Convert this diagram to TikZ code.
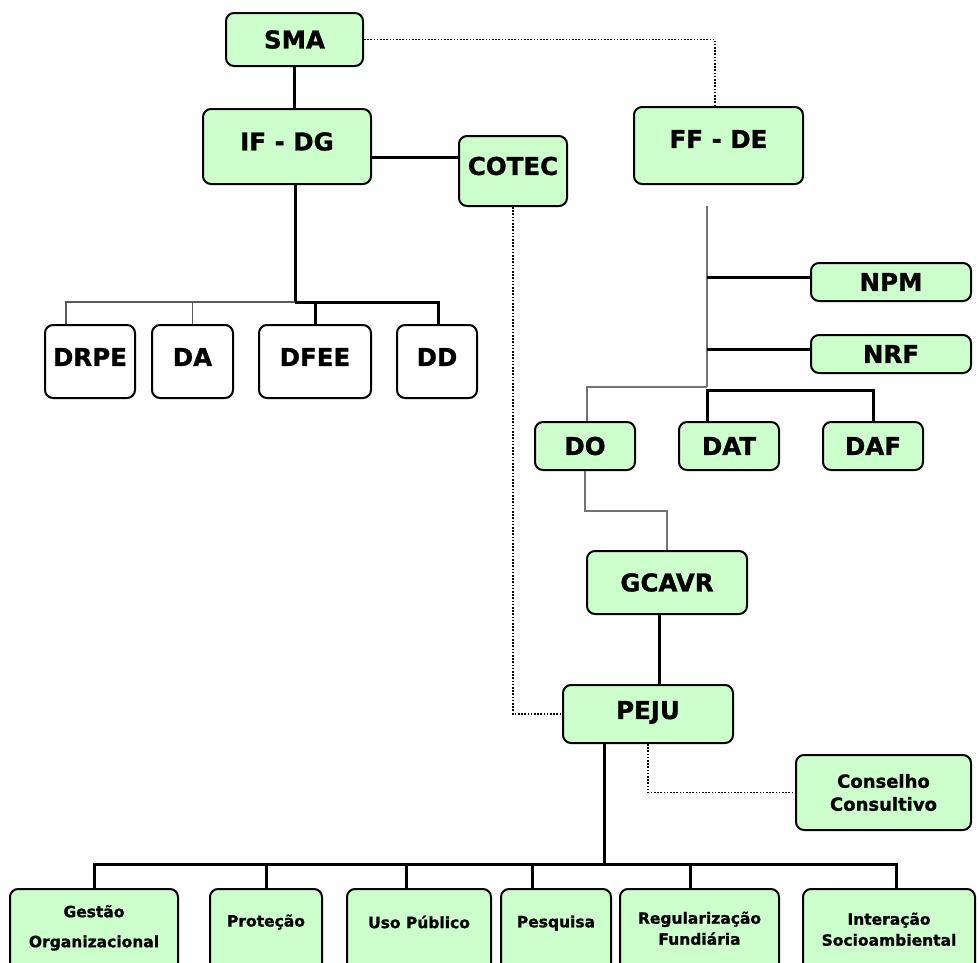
\documentclass[tikz,border=0pt]{standalone}
\usepackage{fontspec}
\setmainfont{DejaVu Sans}[BoldFeatures={FakeBold=1.2}]
\definecolor{boxgreen}{HTML}{CCFFCC}
\newcommand\upt[2]{\raisebox{#1}[\height][\depth]{#2}}
\tikzset{
  gbox/.style={draw=black, line width=2pt, rounded corners=8pt, fill=boxgreen,
    inner sep=0pt, align=center, font=\bfseries\fontsize{24.5}{29}\selectfont},
  wbox/.style={gbox, fill=white},
  bot/.style={font=\bfseries\fontsize{15.5}{21}\selectfont},
  sz/.style 2 args={minimum width=#1pt, minimum height=#2pt},
  thk/.style={draw=black, line width=3pt},
  thn/.style={draw=black!65, line width=1.2pt},
  gry/.style={draw=black!55, line width=1.2pt},
  dots/.style={draw=black, line width=1.8pt, dash pattern=on 1.6pt off 1.6pt},
}
\begin{document}
\begin{tikzpicture}[x=1pt,y=-1pt]
\useasboundingbox (0,0) rectangle (978,962);
\clip (0,0) rectangle (978,962);
% top
\node[gbox, sz={137}{53}] (sma) at (294.5,39.5) {SMA};
\node[gbox, sz={168}{75}] (ifdg) at (287,146.5) {\upt{5pt}{IF - DG}};
\node[gbox, sz={108}{70}] (cotec) at (513,171) {\upt{5pt}{COTEC}};
\node[gbox, sz={169}{77}] (ffde) at (718.5,145.5) {\upt{6.5pt}{FF - DE}};
\node[gbox, sz={160}{38}] (npm) at (891,282) {NPM};
\node[gbox, sz={160}{38}] (nrf) at (891,354) {NRF};
\node[gbox, sz={100}{48}] (do) at (585,446) {DO};
\node[gbox, sz={100}{48}] (dat) at (729,446) {DAT};
\node[gbox, sz={100}{48}] (daf) at (873,446) {DAF};
\node[gbox, sz={160}{63}] (gcavr) at (667,582.5) {GCAVR};
\node[gbox, sz={170}{58}] (peju) at (648,714) {\upt{1.5pt}{PEJU}};
\node[gbox, sz={175}{75}, font=\bfseries\fontsize{18}{23}\selectfont] (cons) at (883.5,792.5) {Conselho\\Consultivo};
% left group
\node[wbox, sz={90}{73}] (drpe) at (90,361.5) {\upt{4.5pt}{DRPE}};
\node[wbox, sz={81}{73}] (da) at (192.5,361.5) {\upt{4.5pt}{DA}};
\node[wbox, sz={112}{73}] (dfee) at (315,361.5) {\upt{4.5pt}{DFEE}};
\node[wbox, sz={80}{73}] (dd) at (437,361.5) {\upt{4.5pt}{DD}};
% bottom row
\node[gbox, bot, sz={168}{86}] (gest) at (94,932) {\upt{4pt}{\begin{tabular}{@{}c@{}}Gestão\\[9pt]Organizacional\end{tabular}}};
\node[gbox, bot, sz={112}{86}] (prot) at (266,932) {\upt{10pt}{Proteção}};
\node[gbox, bot, sz={144}{86}] (uso) at (419,932) {\upt{10pt}{Uso Público}};
\node[gbox, bot, sz={110}{86}] (pesq) at (556,932) {\upt{9pt}{Pesquisa}};
\node[gbox, bot, sz={159}{86}] (reg) at (699.5,932) {\upt{2pt}{\begin{tabular}{@{}c@{}}Regularização\\Fundiária\end{tabular}}};
\node[gbox, bot, sz={172}{86}] (inter) at (889,932) {\upt{1pt}{\begin{tabular}{@{}c@{}}Interação\\Socioambiental\end{tabular}}};
% junctions
\coordinate (jL) at (295,302);
\coordinate (fTop) at (707,206);
\coordinate (fBot) at (707,387);
\coordinate (fBus) at (707,390);
\coordinate (jB) at (604,864);
\coordinate (ifOut) at ([yshift=-10.5pt]ifdg.east);
\coordinate (npmIn) at ([yshift=5pt]npm.west);
\coordinate (nrfIn) at ([yshift=5pt]nrf.west);
\coordinate (gOut) at ([xshift=-8pt]gcavr.south);
\coordinate (pOut) at ([xshift=-44pt]peju.south);
% connectors
\draw[thk] (sma.south) -- (sma.south |- ifdg.north);
\draw[thk] (ifOut) -- (ifOut -| cotec.west);
\draw[thk] (jL |- ifdg.south) -- (jL);
\draw[thn] (jL) -| ([xshift=-24pt]drpe.north);
\draw[thn] (jL -| da.north) -- (da.north);
\draw[thk] (jL) -| (dfee.north);
\draw[thk] (jL) -| ([xshift=1pt]dd.north);
\draw[dots] (sma.east) -| ([xshift=-3.5pt]ffde.north);
\draw[gry] (fTop) -- (fBot);
\draw[thk] (npmIn -| fTop) -- (npmIn);
\draw[thk] (nrfIn -| fTop) -- (nrfIn);
\draw[gry] (fBot) -| ([xshift=2pt]do.north);
\draw[thk] (fBus |- dat.north) -- (fBus) -| (daf.north);
\draw[gry] (do.south) -- ++(0,40) -| (gcavr.north);
\draw[thk] (gOut) -- (gOut |- peju.north);
\draw[dots] (cotec.south) |- (peju.west);
\draw[dots] (peju.south) |- (cons.west);
\draw[thk] (pOut) -- (jB);
\draw[thk] (jB) -| (gest.north);
\draw[thk] (jB) -| (prot.north);
\draw[thk] (jB) -| ([xshift=-13pt]uso.north);
\draw[thk] (jB) -| ([xshift=-24pt]pesq.north);
\draw[thk] (jB) -| ([xshift=-9.5pt]reg.north);
\draw[thk] (jB) -| ([xshift=7pt]inter.north);
\end{tikzpicture}
\end{document}
